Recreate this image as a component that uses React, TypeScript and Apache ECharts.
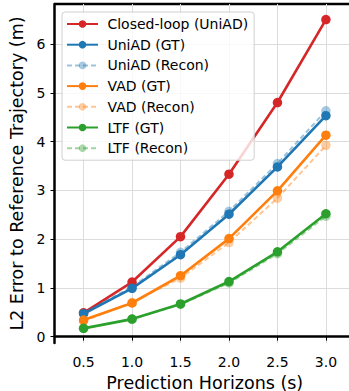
import React, { useEffect, useRef } from "react";
import * as echarts from "echarts";

const horizons = [0.5, 1.0, 1.5, 2.0, 2.5, 3.0];
const xTicks = [0.5, 1.0, 1.5, 2.0, 2.5, 3.0];
const yTicks = [0, 1, 2, 3, 4, 5, 6];

const closedLoopUniAD = [0.49, 1.12, 2.05, 3.33, 4.8, 6.5];
const uniadGT = [0.47, 0.99, 1.68, 2.51, 3.48, 4.53];
const uniadRecon = [0.49, 1.02, 1.73, 2.57, 3.55, 4.63];
const vadGT = [0.34, 0.69, 1.25, 2.01, 2.99, 4.13];
const vadRecon = [0.32, 0.7, 1.2, 1.93, 2.84, 3.92];
const ltfGT = [0.17, 0.36, 0.67, 1.13, 1.74, 2.52];
const ltfRecon = [0.17, 0.36, 0.66, 1.1, 1.7, 2.47];

const FONT = "DejaVu Sans";

function mk(name: string, vals: number[], color: string, recon: boolean) {
  return {
    name,
    type: "line",
    data: horizons.map((h, i) => [h, vals[i]]),
    symbol: "circle",
    symbolSize: 9.5,
    lineStyle: {
      color,
      width: recon ? 2 : 2.6,
      type: recon ? [5, 3] : "solid",
      opacity: recon ? 0.45 : 1,
    },
    itemStyle: { color, opacity: recon ? 0.4 : 1, borderWidth: 0 },
    z: recon ? 3 : 4,
  };
}

export default function App() {
  const ref = useRef<HTMLDivElement>(null);
  useEffect(() => {
    const chart = echarts.init(ref.current!, null, { renderer: "svg" });
    chart.setOption({
      animation: false,
      backgroundColor: "#fff",
      textStyle: { fontFamily: FONT },
      grid: {
        left: 54.5,
        top: 4,
        bottom: 48,
        right: -6,
        containLabel: false,
        outerBoundsMode: "none",
      },
      legend: {
        orient: "vertical",
        left: 62,
        top: 12,
        z: 20,
        itemWidth: 31,
        itemHeight: 9.5,
        itemGap: 4.7,
        padding: [4, 6, 4, 4],
        backgroundColor: "rgba(255,255,255,0.8)",
        borderColor: "#d0d0d0",
        borderWidth: 1,
        borderRadius: 3,
        formatter: (n: string) => " " + n,
        textStyle: { fontFamily: FONT, fontSize: 14, color: "#000", lineHeight: 16 },
        data: [
          "Closed-loop (UniAD)",
          "UniAD (GT)",
          "UniAD (Recon)",
          "VAD (GT)",
          "VAD (Recon)",
          "LTF (GT)",
          "LTF (Recon)",
        ],
      },
      xAxis: {
        type: "value",
        min: 0.2,
        max: 3.3,
        name: "Prediction Horizons (s)",
        nameLocation: "middle",
        nameGap: 26,
        nameTextStyle: { fontFamily: FONT, fontSize: 17.5, color: "#000", lineHeight: 18 },
        axisLine: { show: true, lineStyle: { color: "#000", width: 2.5 } },
        axisTick: { show: true, length: 4, lineStyle: { color: "#000", width: 1 }, customValues: xTicks },
        axisLabel: {
          fontFamily: FONT,
          fontSize: 14,
          color: "#000",
          margin: 12,
          customValues: xTicks,
          formatter: (v: number) => v.toFixed(1),
        },
        splitLine: { show: true, lineStyle: { color: "#dcdcdc", width: 1 } },
      },
      yAxis: {
        type: "value",
        min: -0.13,
        max: 6.82,
        name: "L2 Error to Reference Trajectory (m)",
        nameLocation: "middle",
        nameGap: 28,
        nameTextStyle: { fontFamily: FONT, fontSize: 17.5, color: "#000", lineHeight: 18 },
        axisLine: { show: true, lineStyle: { color: "#000", width: 2.5 } },
        axisTick: { show: true, length: 4, lineStyle: { color: "#000", width: 1 }, customValues: yTicks },
        axisLabel: {
          fontFamily: FONT,
          fontSize: 14,
          color: "#000",
          margin: 9,
          customValues: yTicks,
        },
        splitLine: { show: true, lineStyle: { color: "#dcdcdc", width: 1 } },
      },
      series: [
        mk("Closed-loop (UniAD)", closedLoopUniAD, "#d62728", false),
        mk("UniAD (GT)", uniadGT, "#1f77b4", false),
        mk("UniAD (Recon)", uniadRecon, "#1f77b4", true),
        mk("VAD (GT)", vadGT, "#ff7f0e", false),
        mk("VAD (Recon)", vadRecon, "#ff7f0e", true),
        mk("LTF (GT)", ltfGT, "#2ca02c", false),
        mk("LTF (Recon)", ltfRecon, "#2ca02c", true),
      ],
      graphic: [
        {
          type: "line",
          shape: { x1: 54.5, y1: 4, x2: 360, y2: 4 },
          style: { stroke: "#000", lineWidth: 2.5 },
        },
      ],
    });
    return () => chart.dispose();
  }, []);
  return (
    <div style={{ position: "absolute", left: 0, top: 0, width: 349, height: 391 }}>
      <div ref={ref} style={{ width: 349, height: 391 }} />
    </div>
  );
}
